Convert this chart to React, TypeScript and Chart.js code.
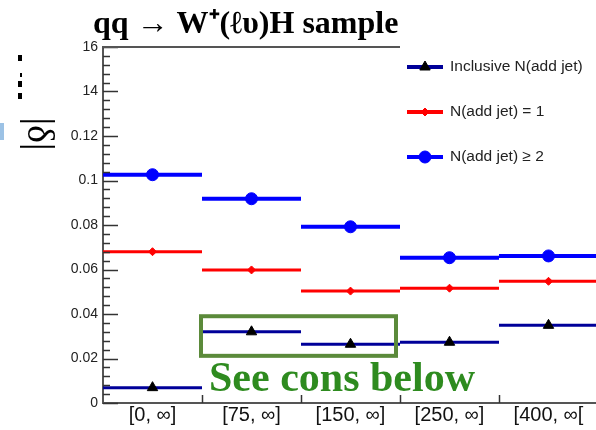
import React, { useEffect, useRef } from "react";
import { Chart, registerables } from "chart.js";
import { drawPoint } from "chart.js/helpers";

Chart.register(...registerables);

const categories = ["[0, \u221e]", "[75, \u221e]", "[150, \u221e]", "[250, \u221e]", "[400, \u221e["];
const yTickLabels = ["0", "0.02", "0.04", "0.06", "0.08", "0.1", "0.12", "14", "16"];
const inclusive = [0.0069, 0.032, 0.0264, 0.0273, 0.0349];
const oneJet = [0.068, 0.0598, 0.0503, 0.0516, 0.0547];
const twoJets = [0.1026, 0.0918, 0.0792, 0.0653, 0.0661];
const seriesNames = ["Inclusive N(add jet)", "N(add jet) = 1", "N(add jet) \u2265 2"];
const titleText = "qq \u2192 W\u207a(\u2113\u03c5)H sample";
const noteText = "See cons below";

const SANS = "'Liberation Sans', Arial, sans-serif";
const SERIF = "'Liberation Serif', 'Times New Roman', serif";

const segColors = ["#000099", "#ff0000", "#0000ff"];
const segWidths = [3, 3, 4];

const decorPlugin = {
  id: "decor",
  beforeDatasetsDraw(chart: any) {
    const ctx = chart.ctx;
    const xs = chart.scales.x;
    const half = (xs.getPixelForValue(1) - xs.getPixelForValue(0)) / 2;
    ctx.save();
    chart.data.datasets.forEach((ds: any, di: number) => {
      const meta = chart.getDatasetMeta(di);
      ctx.strokeStyle = segColors[di];
      ctx.lineWidth = segWidths[di];
      meta.data.forEach((pt: any) => {
        ctx.beginPath();
        ctx.moveTo(pt.x - half, pt.y);
        ctx.lineTo(pt.x + half, pt.y);
        ctx.stroke();
      });
    });
    ctx.restore();
  },
  afterDraw(chart: any) {
    const ctx = chart.ctx;
    const ca = chart.chartArea;
    const xs = chart.scales.x;
    const ys = chart.scales.y;
    ctx.save();
    // inner y ticks
    ctx.strokeStyle = "#333";
    ctx.lineWidth = 1.5;
    for (let k = 0; k <= 40; k++) {
      const y = Math.round(ys.getPixelForValue(k * 0.004)) + 0.5;
      const len = k % 5 === 0 ? 15 : 7;
      ctx.beginPath();
      ctx.moveTo(ca.left, y);
      ctx.lineTo(ca.left + len, y);
      ctx.stroke();
    }
    // x boundary ticks
    for (let i = 0; i < categories.length - 1; i++) {
      const x = Math.round((xs.getPixelForValue(i) + xs.getPixelForValue(i + 1)) / 2) + 0.5;
      ctx.beginPath();
      ctx.moveTo(x, ca.bottom);
      ctx.lineTo(x, ca.bottom - 8);
      ctx.stroke();
    }
    // top frame
    ctx.strokeStyle = "#555";
    ctx.lineWidth = 2;
    ctx.beginPath();
    ctx.moveTo(ca.left, ca.top);
    ctx.lineTo(ca.right, ca.top);
    ctx.stroke();

    // legend box
    ctx.fillStyle = "#ffffff";
    ctx.fillRect(400, 40, 240, 135);
    const rows = [67, 112, 157];
    chart.data.datasets.forEach((ds: any, di: number) => {
      const y = rows[di];
      ctx.strokeStyle = segColors[di];
      ctx.lineWidth = 4;
      ctx.beginPath();
      ctx.moveTo(407, y);
      ctx.lineTo(443, y);
      ctx.stroke();
      ctx.fillStyle = ds.pointBackgroundColor;
      ctx.strokeStyle = ds.pointBorderColor;
      ctx.lineWidth = 1;
      drawPoint(ctx, { pointStyle: ds.pointStyle, radius: ds.pointRadius, borderWidth: 1, rotation: 0 }, 425, y);
      ctx.fillStyle = "#222";
      ctx.font = `15.5px ${SANS}`;
      ctx.textAlign = "left";
      ctx.textBaseline = "middle";
      ctx.fillText(ds.label, 450, y);
    });

    // title
    ctx.fillStyle = "#000";
    ctx.font = `bold 32px ${SERIF}`;
    ctx.textAlign = "left";
    ctx.textBaseline = "alphabetic";
    ctx.fillText(titleText, 93, 33);

    // green box
    const bx0 = (xs.getPixelForValue(0) + xs.getPixelForValue(1)) / 2 - 1;
    const bx1 = (xs.getPixelForValue(2) + xs.getPixelForValue(3)) / 2 - 4;
    const by0 = ys.getPixelForValue(0.039);
    const by1 = ys.getPixelForValue(0.0212);
    ctx.strokeStyle = "#5b8a3a";
    ctx.lineWidth = 4;
    ctx.strokeRect(bx0, by0, bx1 - bx0, by1 - by0);

    // note text
    ctx.fillStyle = "#2e8b1f";
    ctx.font = `bold 42px ${SERIF}`;
    ctx.fillText(noteText, 209, 391);

    // rotated y title fragment
    ctx.fillStyle = "#000";
    ctx.translate(38, 134);
    ctx.rotate(Math.PI / 2);
    ctx.font = `38px ${SERIF}`;
    ctx.textAlign = "center";
    ctx.textBaseline = "middle";
    ctx.fillText("|\u03b4|", 0, 0);
    ctx.setTransform(1, 0, 0, 1, 0, 0);
    // stray marks of the cut title
    ctx.fillRect(18, 55, 4, 6);
    ctx.fillRect(20, 73, 2, 4);
    ctx.fillRect(18, 81, 4, 6);
    ctx.fillRect(18, 93, 4, 6);
    // slide artifact
    ctx.fillStyle = "#9cc2e5";
    ctx.fillRect(0, 123, 4, 17);
    ctx.restore();
  },
};

export default function App() {
  const ref = useRef<HTMLCanvasElement | null>(null);
  useEffect(() => {
    if (!ref.current) return;
    const chart = new Chart(ref.current, {
      type: "line",
      data: {
        labels: categories,
        datasets: [
          {
            label: seriesNames[0],
            data: inclusive,
            showLine: false,
            pointStyle: "triangle",
            pointRadius: 6,
            pointBackgroundColor: "#000",
            pointBorderColor: "#000",
          },
          {
            label: seriesNames[1],
            data: oneJet,
            showLine: false,
            pointStyle: "rectRot",
            pointRadius: 4,
            pointBackgroundColor: "#ff0000",
            pointBorderColor: "#ff0000",
          },
          {
            label: seriesNames[2],
            data: twoJets,
            showLine: false,
            pointStyle: "circle",
            pointRadius: 6,
            pointBackgroundColor: "#0000ff",
            pointBorderColor: "#0000ff",
          },
        ] as any,
      },
      options: {
        responsive: false,
        animation: false,
        events: [],
        layout: { padding: { left: 0, top: 47, right: 42, bottom: 0 } },
        plugins: { legend: { display: false }, title: { display: false }, tooltip: { enabled: false } },
        scales: {
          x: {
            type: "category",
            offset: true,
            grid: { display: false, drawTicks: false },
            border: { display: true, color: "#555", width: 2 },
            ticks: { font: { size: 20, family: SANS }, color: "#111", padding: 0, maxRotation: 0, autoSkip: false },
            afterFit: (s: any) => { s.height = 27; },
          },
          y: {
            min: 0,
            max: 0.16,
            grid: { display: false, drawTicks: false },
            border: { display: true, color: "#555", width: 2 },
            ticks: {
              stepSize: 0.02,
              font: { size: 14, family: SANS },
              color: "#222",
              padding: 5,
              autoSkip: false,
              callback: (_v: any, i: number) => yTickLabels[i],
            },
            afterFit: (s: any) => { s.width = 103; },
          },
        },
      },
      plugins: [decorPlugin],
    });
    return () => chart.destroy();
  }, []);
  return (
    <div style={{ position: "fixed", left: 0, top: 0, width: 596, height: 430, overflow: "hidden", background: "#fff" }}>
      <canvas ref={ref} width={640} height={430} style={{ display: "block" }} />
    </div>
  );
}
